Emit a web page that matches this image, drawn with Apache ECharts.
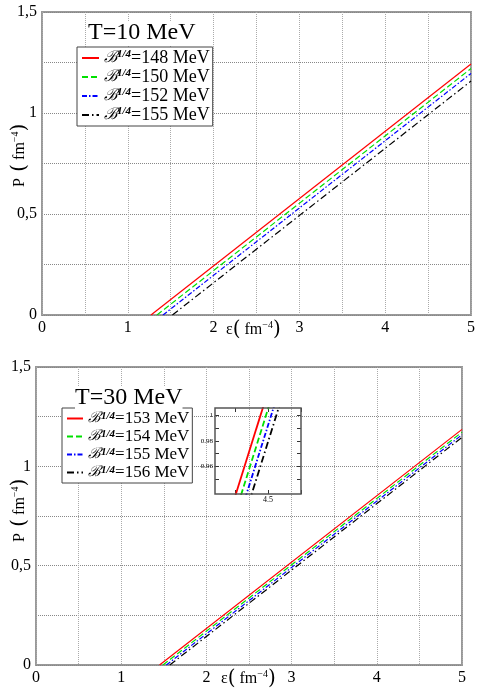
<!DOCTYPE html>
<html>
<head>
<meta charset="utf-8">
<script src="https://cdn.jsdelivr.net/npm/echarts@6/dist/echarts.min.js"></script>
<style>html,body{margin:0;padding:0;background:#fff;}#c{width:478px;height:695px;}</style>
</head>
<body>
<div id="c"></div>
<script>
// ---- data ----
const panelTitles = ['T=10 MeV', 'T=30 MeV'];
const topBag = ['148', '150', '152', '155'];          // B^1/4 (MeV), T=10 MeV
const topStartEps = [1.27, 1.34, 1.41, 1.52];          // eps where P=0
const topEndP = [1.243, 1.220, 1.196, 1.158];          // P at eps=5
const botBag = ['153', '154', '155', '156'];           // B^1/4 (MeV), T=30 MeV
const botStartEps = [1.45, 1.49, 1.53, 1.57];
const botEndP = [1.186, 1.172, 1.159, 1.146];
const epsMax = 5;
const xLabelValues = [0, 1, 2, 3, 4, 5];
const yLabelText = {'0': '0', '0.5': '0,5', '1': '1', '1.5': '1,5'};
const insetXLabels = [4.5];
const insetXTicks = [4.25, 4.5, 4.75];
const insetYLabels = [0.96, 0.98, 1];
const insetYTicks = [0.95, 0.96, 0.97, 0.98, 0.99, 1.0];

const colors = ['#ff0000', '#00e000', '#0000ff', '#000000'];
const dashes = ['solid', [6, 3], [5, 2, 1.5, 2], [7, 3, 1.5, 3]];
const serif = 'Liberation Serif';

function lineData(s, p) { return [[s, 0], [epsMax, p]]; }

const series = [];
topBag.forEach((b, i) => series.push({
  name: 'T10_' + b, type: 'line', xAxisIndex: 0, yAxisIndex: 0, symbol: 'none',
  lineStyle: { color: colors[i], width: 1.2, type: dashes[i] }, itemStyle: { color: colors[i] },
  data: lineData(topStartEps[i], topEndP[i]), animation: false, z: 3
}));
botBag.forEach((b, i) => series.push({
  name: 'T30_' + b, type: 'line', xAxisIndex: 1, yAxisIndex: 1, symbol: 'none',
  lineStyle: { color: colors[i], width: 1.2, type: dashes[i] }, itemStyle: { color: colors[i] },
  data: lineData(botStartEps[i], botEndP[i]), animation: false, z: 3
}));
botBag.forEach((b, i) => series.push({
  name: 'T30_' + b, type: 'line', xAxisIndex: 2, yAxisIndex: 2, symbol: 'none',
  lineStyle: { color: colors[i], width: 1.8, type: dashes[i] }, itemStyle: { color: colors[i] },
  data: lineData(botStartEps[i], botEndP[i]), animation: false, z: 4
}));

function legendRich(fs, lh) {
  return {
    b: { fontFamily: 'DejaVu Serif', fontStyle: 'italic', fontSize: fs - 2, lineHeight: lh, color: '#000' },
    s: { fontFamily: serif, fontStyle: 'italic', fontWeight: 'bold', fontSize: Math.round(fs * 0.62), lineHeight: lh, verticalAlign: 'top', color: '#000' },
    t: { fontFamily: serif, fontSize: fs, lineHeight: lh, color: '#000' }
  };
}
const legFmt = name => '{b|ℬ}{s|1/4}{t|=' + name.split('_')[1] + ' MeV}';

function mainX(gi) {
  return {
    type: 'value', gridIndex: gi, min: 0, max: epsMax, interval: 0.5,
    axisLine: { show: false }, axisTick: { show: false },
    axisLabel: { fontFamily: serif, fontSize: 16, color: '#000', margin: 5,
      formatter: v => (xLabelValues.indexOf(v) >= 0 ? String(v) : '') },
    splitLine: { show: true, lineStyle: { type: 'dotted', color: '#aaa', width: 1 } }
  };
}
function mainY(gi) {
  return {
    type: 'value', gridIndex: gi, min: 0, max: 1.5, interval: 0.25,
    axisLine: { show: false }, axisTick: { show: false },
    axisLabel: { fontFamily: serif, fontSize: 16, color: '#000', margin: 5,
      formatter: v => (yLabelText[String(v)] || '') },
    splitLine: { show: true, lineStyle: { type: 'dotted', color: '#888', width: 1 } }
  };
}

function axisNameRich(fs) {
  return {
    e: { fontFamily: serif, fontSize: fs, color: '#000' },
    p: { fontFamily: 'DejaVu Serif', fontSize: fs + 4, color: '#000', fontWeight: 100 },
    f: { fontFamily: serif, fontSize: fs, color: '#000' },
    u: { fontFamily: serif, fontSize: Math.round(fs * 0.6), color: '#000', verticalAlign: 'top' }
  };
}

const legendCommon = {
  orient: 'vertical', borderColor: '#444', borderWidth: 1, backgroundColor: '#fff', borderRadius: 0,
  formatter: legFmt, selectedMode: false, itemHeight: 1,
  itemStyle: { opacity: 0, borderWidth: 0 }
};

const option = {
  animation: false,
  backgroundColor: '#fff',
  title: [
    { text: panelTitles[0], left: 88, top: 21, padding: 0, backgroundColor: '#fff',
      textStyle: { fontFamily: serif, fontSize: 24, fontWeight: 'normal', color: '#000' } },
    { text: panelTitles[1], left: 75, top: 386, padding: 0, backgroundColor: '#fff',
      textStyle: { fontFamily: serif, fontSize: 24, fontWeight: 'normal', color: '#000' } }
  ],
  legend: [
    Object.assign({}, legendCommon, {
      left: 77, top: 47, padding: [2, 3, 2, 4], itemGap: 1, itemWidth: 17,
      data: topBag.map(b => 'T10_' + b), textStyle: { rich: legendRich(18, 17.8) } }),
    Object.assign({}, legendCommon, {
      left: 62, top: 408, padding: [2, 3, 2, 4], itemGap: 1, itemWidth: 16,
      data: botBag.map(b => 'T30_' + b), textStyle: { rich: legendRich(17, 16) } })
  ],
  grid: [
    { left: 42, top: 12, width: 430, height: 303, show: true, borderColor: '#999', borderWidth: 2, backgroundColor: 'transparent' },
    { left: 36, top: 367, width: 426, height: 298, show: true, borderColor: '#999', borderWidth: 2, backgroundColor: 'transparent' },
    { left: 215, top: 408, width: 86, height: 86, show: true, borderColor: '#555', borderWidth: 1.5, backgroundColor: 'transparent', z: 5 }
  ],
  xAxis: [
    mainX(0), mainX(1),
    { type: 'value', gridIndex: 2, min: 4.1, max: 4.75, position: 'bottom',
      axisLine: { show: false },
      axisTick: { show: true, inside: true, length: 4, customValues: insetXTicks, lineStyle: { color: '#333' } },
      axisLabel: { show: true, customValues: insetXLabels, fontFamily: serif, fontSize: 8, color: '#000', margin: 2, formatter: v => String(v) },
      splitLine: { show: false } },
    { type: 'value', gridIndex: 2, min: 4.1, max: 4.75, position: 'top',
      axisLine: { show: false },
      axisTick: { show: true, inside: true, length: 4, customValues: insetXTicks, lineStyle: { color: '#333' } },
      axisLabel: { show: false }, splitLine: { show: false } }
  ],
  yAxis: [
    mainY(0), mainY(1),
    { type: 'value', gridIndex: 2, min: 0.938, max: 1.006, position: 'left',
      axisLine: { show: false },
      axisTick: { show: true, inside: true, length: 4, customValues: insetYTicks, lineStyle: { color: '#333' } },
      axisLabel: { show: true, customValues: insetYLabels, fontFamily: serif, fontSize: 7, color: '#000', margin: 2,
        formatter: v => (Math.abs(v - 1) < 1e-9 ? '1' : v.toFixed(2)) },
      splitLine: { show: false } },
    { type: 'value', gridIndex: 2, min: 0.938, max: 1.006, position: 'right',
      axisLine: { show: false },
      axisTick: { show: true, inside: true, length: 4, customValues: insetYTicks, lineStyle: { color: '#333' } },
      axisLabel: { show: false }, splitLine: { show: false } }
  ],
  graphic: [
    { type: 'text', left: 226, top: 320, style: { text: '{e|ε}{p|(}{f| fm}{u|−4}{p|)}', rich: axisNameRich(16) } },
    { type: 'text', left: 221, top: 669, style: { text: '{e|ε}{p|(}{f| fm}{u|−4}{p|)}', rich: axisNameRich(16) } },
    { type: 'text', x: 10, y: 187, rotation: Math.PI / 2, style: { text: '{f|P}{p| (}{f| fm}{u|−4}{p|)}', rich: axisNameRich(16) } },
    { type: 'text', x: 10, y: 542, rotation: Math.PI / 2, style: { text: '{f|P}{p| (}{f| fm}{u|−4}{p|)}', rich: axisNameRich(16) } }
  ],
  series: series
};

const chart = echarts.init(document.getElementById('c'), null, { renderer: 'canvas' });
chart.setOption(option);
</script>
</body>
</html>
